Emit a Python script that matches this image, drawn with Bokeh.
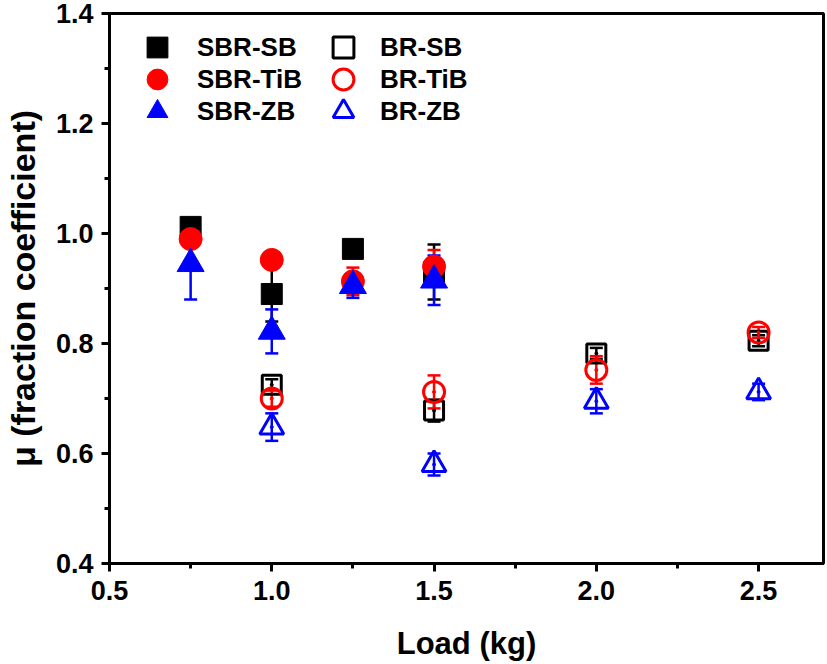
from bokeh.plotting import figure
from bokeh.models import (ColumnDataSource, Whisker, TeeHead, Legend, LegendItem,
                          FixedTicker, NumeralTickFormatter, Range1d)
from bokeh.embed import file_html
from bokeh.resources import INLINE

# ---- data ----
load_sbr = [0.75, 1.0, 1.25, 1.5]
sbr_sb = [1.012, 0.890, 0.972, 0.930]
sbr_sb_err = [0.010, 0.050, 0.010, 0.050]
sbr_tib = [0.990, 0.952, 0.913, 0.940]
sbr_tib_err = [0.010, 0.010, 0.025, 0.030]
sbr_zb = [0.945, 0.822, 0.905, 0.915]
sbr_zb_err = [0.065, 0.040, 0.022, 0.045]

load_br = [1.0, 1.5, 2.0, 2.5]
br_sb = [0.725, 0.678, 0.782, 0.805]
br_sb_err = [0.010, 0.020, 0.010, 0.010]
br_tib = [0.700, 0.712, 0.752, 0.820]
br_tib_err = [0.015, 0.030, 0.025, 0.010]
br_zb = [0.648, 0.580, 0.695, 0.712]
br_zb_err = [0.025, 0.020, 0.022, 0.015]

x_ticks = [0.5, 1.0, 1.5, 2.0, 2.5]
y_ticks = [0.4, 0.6, 0.8, 1.0, 1.2, 1.4]

FONT = "Liberation Sans"

p = figure(width=826, height=664, output_backend="svg", toolbar_location=None,
           x_range=Range1d(0.5, 2.7), y_range=Range1d(0.4, 1.4),
           min_border_left=104, min_border_right=3, min_border_top=13, min_border_bottom=101)
p.grid.visible = False
p.outline_line_color = "black"
p.outline_line_width = 3
p.background_fill_color = "white"
p.border_fill_color = "white"

for ax in (p.xaxis[0], p.yaxis[0]):
    ax.axis_line_width = 3
    ax.major_tick_line_width = 3
    ax.minor_tick_line_width = 3
    ax.major_tick_in = 0
    ax.major_tick_out = 8
    ax.minor_tick_in = 0
    ax.minor_tick_out = 5
    ax.major_label_text_font = FONT
    ax.major_label_text_font_style = "bold"
    ax.major_label_text_font_size = "27px"
    ax.major_label_text_color = "black"
    ax.axis_label_text_font = FONT
    ax.axis_label_text_font_style = "bold"
    ax.axis_label_text_color = "black"
    ax.formatter = NumeralTickFormatter(format="0.0")

p.xaxis[0].axis_label_text_font_size = "31px"
p.yaxis[0].axis_label_text_font_size = "34px"
p.xaxis[0].ticker = FixedTicker(ticks=x_ticks, minor_ticks=[0.75, 1.25, 1.75, 2.25, 2.75])
p.yaxis[0].ticker = FixedTicker(ticks=y_ticks, minor_ticks=[0.5, 0.7, 0.9, 1.1, 1.3])
p.xaxis[0].axis_label = "Load (kg)"
p.yaxis[0].axis_label = "μ (fraction coefficient)"
p.xaxis[0].major_label_standoff = 9
p.xaxis[0].axis_label_standoff = 23
p.yaxis[0].major_label_standoff = 8
p.yaxis[0].axis_label_standoff = 11

series = [
    ("SBR-SB", load_sbr, sbr_sb, sbr_sb_err, "square", "black", True, 21),
    ("SBR-TiB", load_sbr, sbr_tib, sbr_tib_err, "circle", "red", True, 23),
    ("SBR-ZB", load_sbr, sbr_zb, sbr_zb_err, "triangle", "blue", True, 27),
    ("BR-SB", load_br, br_sb, br_sb_err, "square", "black", False, 19),
    ("BR-TiB", load_br, br_tib, br_tib_err, "circle", "red", False, 21),
    ("BR-ZB", load_br, br_zb, br_zb_err, "triangle", "blue", False, 24),
]

renderers = {}
sources = []
for name, xs, ys, es, marker, color, filled, size in series:
    src = ColumnDataSource(dict(x=xs, y=ys,
                                lo=[a - b for a, b in zip(ys, es)],
                                hi=[a + b for a, b in zip(ys, es)]))
    sources.append((src, color))
    if filled:
        r = p.scatter("x", "y", source=src, marker=marker, size=size,
                      fill_color=color, line_color=color, line_width=1)
    else:
        r = p.scatter("x", "y", source=src, marker=marker, size=size,
                      fill_color=None, line_color=color, line_width=3)
        p.scatter("x", "y", source=src, marker="circle", size=3,
                  fill_color=color, line_color=color)
    renderers[name] = r

for src, color in sources:
    w = Whisker(source=src, base="x", lower="lo", upper="hi",
                line_color=color, line_width=2.5,
                lower_head=TeeHead(size=13, line_color=color, line_width=2.5),
                upper_head=TeeHead(size=13, line_color=color, line_width=2.5))
    p.add_layout(w)


def make_legend(name, loc, standoff):
    leg = Legend(items=[LegendItem(label=name, renderers=[renderers[name]])],
                 location=loc, orientation="vertical",
                 glyph_width=52, glyph_height=52, label_height=52,
                 spacing=0, padding=0, margin=0, label_standoff=standoff,
                 border_line_color=None, background_fill_alpha=0,
                 label_text_font=FONT, label_text_font_style="bold",
                 label_text_font_size="26px", label_text_color="black")
    p.add_layout(leg, "center")


row_y = [490, 458, 426]
for name, y in zip(["SBR-SB", "SBR-TiB", "SBR-ZB"], row_y):
    make_legend(name, (22, y), 14)
for name, y in zip(["BR-SB", "BR-TiB", "BR-ZB"], row_y):
    make_legend(name, (208, y), 11)

open("out.html", "w").write(file_html(p, INLINE))
